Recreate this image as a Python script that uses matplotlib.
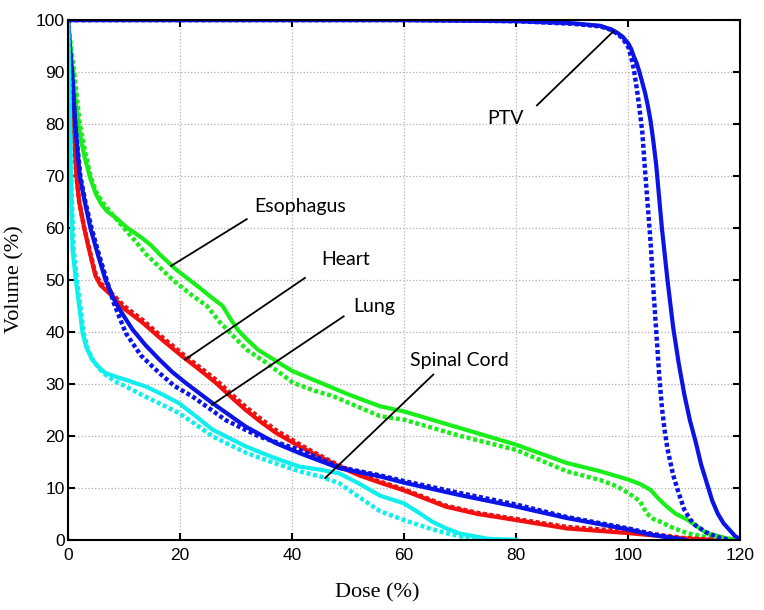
import matplotlib
matplotlib.use('Agg')
import matplotlib.pyplot as plt

plt.rcParams['font.family'] = 'Liberation Sans'

# dose-volume histogram curves (dose %, volume %); solid / dotted plan
ptv_d = [0, 60, 80, 90, 95, 97, 98, 99, 100, 100.5, 101, 101.5, 102, 102.5, 103, 103.5, 104, 104.5, 105,
         105.5, 106, 106.5, 107, 107.5, 108, 109, 110, 111, 112, 113, 114, 115, 116, 117, 118, 119, 120]
ptv_v = [100, 100, 99.8, 99.4, 98.9, 98.2, 97.6, 96.8, 95.5, 94.5, 93, 91.7, 90, 88, 86, 83.5, 80.5, 76.5, 72,
         66, 60, 55, 50, 45.5, 41, 34, 28, 23, 19, 14.5, 11, 7.5, 5, 3.2, 2, 0.8, 0]
ptv2_d = [0, 60, 80, 90, 95, 97, 98, 99, 100, 100.5, 101, 101.5, 102, 102.5, 103, 103.5, 104, 104.5, 105,
          105.5, 106, 106.5, 107, 108, 109, 110, 111, 112, 114, 116, 118]
ptv2_v = [100, 100, 99.8, 99.3, 98.8, 98.1, 97.4, 96.5, 94.8, 93, 90.5, 87, 83, 78.5, 71, 64, 57, 48, 40,
          32, 25.5, 21, 17.5, 12.5, 9, 5.8, 4, 2.8, 1.4, 0.5, 0]

eso_d = [0, 0.5, 1, 1.5, 2, 2.5, 3, 4, 5, 6, 7, 8.5, 10.6, 12, 13.3, 14.8, 16.3, 17.8, 19.3, 21.7, 23.5,
         25.2, 27.6, 29, 30.4, 32, 34, 36.7, 40, 43.8, 50, 55.7, 60, 70, 80, 89, 95, 100, 102, 104, 105.5,
         107, 108.5, 110.5, 114, 117.5, 120]
eso_v = [100, 94, 88, 83, 79, 76, 73.5, 69.5, 66.5, 64.5, 63.2, 62, 60, 59, 58, 56.7, 55, 53.5, 52, 50, 48.5,
         47, 45, 42.5, 40.3, 38.5, 36.5, 34.7, 32.5, 30.8, 28, 25.7, 24.7, 21.5, 18.3, 14.8, 13.2, 11.6, 10.8,
         9.6, 7.8, 6.3, 5, 3.9, 1.3, 0.3, 0]
eso2_d = [0, 0.5, 1.1, 1.6, 2.1, 3, 4, 5, 6.1, 8, 10, 12, 13.9, 16.3, 18.7, 22.2, 24.8, 27, 29.5, 32, 35.5,
          40.2, 44, 47.4, 55.7, 60, 70, 80, 89, 95, 98, 100, 101, 102.1, 103.3, 104.5, 105.7, 108, 110.5,
          114, 117]
eso2_v = [100, 95, 90, 85, 80, 75, 70, 67, 65, 62.5, 60, 57.5, 55, 52.5, 50, 47, 45, 42, 39.2, 36.5, 34,
          30.2, 28.7, 27.6, 23.8, 23.1, 20, 17.3, 13.2, 11.5, 10.3, 9, 8.3, 7.4, 5.1, 4, 3.5, 2.3, 1.3,
          0.5, 0]

heart_d = [0, 0.3, 0.6, 1.1, 1.5, 2.0, 2.9, 3.75, 4.9, 5.8, 6.8, 7.9, 10, 13.3, 16.8, 20.4, 23.4, 26.4, 29,
           31.7, 34.4, 37.1, 41.3, 43.6, 48.4, 52, 55.7, 60, 67.4, 73, 80, 89, 100, 105, 109.5, 115]
heart_v = [100, 93, 86, 78, 70, 65, 60, 55.9, 50.8, 49, 48, 46.9, 44.5, 41.8, 38.5, 35.3, 32.8, 30.2, 27.6,
           25, 22.7, 20.6, 18, 16.7, 14.1, 12.4, 11, 9.5, 6.4, 5, 3.8, 2.2, 1.3, 0.8, 0.3, 0]
heart2_d = [0, 0.3, 0.6, 1.1, 1.5, 2.0, 2.9, 3.75, 4.9, 5.8, 6.8, 7.9, 10, 13.3, 16.8, 20.4, 23.4, 26.4, 29,
            31.7, 34.4, 37.1, 41.3, 43.6, 48.4, 52, 55.7, 60, 67.4, 73, 80, 89, 100, 105, 109.5, 115]
heart2_v = [100, 93, 86, 78, 70, 65, 60, 56.2, 51.2, 49.4, 48.4, 47.3, 45, 42.3, 39, 35.8, 33.3, 30.8, 28.2,
            25.6, 23.3, 21.1, 18.4, 17, 14.3, 12.6, 11.2, 9.7, 6.6, 5.2, 4, 2.5, 1.6, 1, 0.4, 0]

lung_d = [0, 0.3, 0.7, 1.3, 2.1, 3, 4.0, 5.3, 6.7, 8.5, 10, 11.5, 13.8, 16.3, 18.6, 21, 25.8, 31.7, 37.1,
          41.3, 48.4, 55.7, 60, 70, 80, 89, 100, 104, 110]
lung_v = [100, 95, 90, 80, 70, 65, 60, 55, 50, 45.6, 43, 40.5, 37.5, 34.7, 32.3, 30.2, 26.3, 21.8, 18.6,
          16.7, 13.8, 12.2, 11, 8.6, 6.4, 4.2, 2.0, 1, 0]
lung2_d = [0, 0.3, 0.7, 1.3, 2.2, 3.1, 4.2, 5.5, 6.9, 8.2, 10.3, 13, 16.3, 19, 22.2, 28.2, 34.1, 41.3, 48.4,
           55.7, 60, 70, 80, 89, 100, 104, 110]
lung2_v = [100, 95, 90, 80, 70, 65, 60, 55, 50, 45.5, 39.8, 35.5, 32.1, 29.6, 27.6, 23, 19.9, 17.3, 14,
           12.4, 11.3, 9, 6.8, 4.4, 2.2, 1.2, 0]

cord_d = [0, 0.2, 0.4, 0.6, 0.8, 1.4, 2.0, 2.6, 3.3, 4.3, 5.5, 6.7, 8.5, 10.3, 13.9, 16.8, 19.8, 22.8, 25.8,
          31.7, 36.5, 41.3, 45, 48.4, 52, 55.7, 60, 62.5, 65, 67.5, 70, 75, 80]
cord_v = [100, 90, 78, 65, 56, 50, 45, 39.8, 37, 34.7, 33.2, 32.1, 31.4, 30.8, 29.5, 28, 26.3, 23.8, 21.2,
          18, 15.9, 14.1, 13.5, 12.8, 10.8, 8.5, 7, 5.3, 3.5, 2.2, 1.2, 0.2, 0]
cord2_d = [0, 0.2, 0.4, 0.7, 1.0, 1.6, 2.2, 2.8, 3.5, 4.5, 5.7, 7, 8.6, 10.3, 13.9, 16.8, 19.8, 22.8, 25.8,
           31.7, 36.5, 41.3, 45, 48.4, 52, 55.7, 60, 64.5, 67.5, 70.4, 75]
cord2_v = [100, 90, 78, 65, 56, 50, 45, 39.8, 36.8, 34.5, 32.8, 31.5, 30.4, 29.5, 27.5, 26, 24.4, 22.2, 19.9,
           16.8, 14.9, 13.2, 12.2, 10.9, 8.2, 5.5, 3.8, 2.2, 1.3, 0.6, 0]

# labels: (text, text pos, line start, line end)
labels = [
    ('PTV', (78, 81), (83.7, 83.6), (97.4, 97.9)),
    ('Esophagus', (41.4, 64.2), (31.9, 61.7), (18.4, 52.7)),
    ('Heart', (49.5, 54), (42.3, 50.4), (20.9, 34.7)),
    ('Lung', (54.6, 44.9), (49.2, 43), (25.7, 26)),
    ('Spinal Cord', (69.8, 34.5), (65.2, 31.8), (45.9, 11.9)),
]

BLUE = '#0a14e6'
GREEN = '#1aee1a'
RED = '#f01010'
CYAN = '#10eeee'

fig = plt.figure(figsize=(7.64, 6.1), dpi=100)
ax = fig.add_axes([0.089, 0.115, 0.88, 0.852])

dots = (0, (0.9, 0.6))
curves = [
    (eso_d, eso_v, eso2_d, eso2_v, GREEN),
    (heart_d, heart_v, heart2_d, heart2_v, RED),
    (lung_d, lung_v, lung2_d, lung2_v, BLUE),
    (cord_d, cord_v, cord2_d, cord2_v, CYAN),
    (ptv_d, ptv_v, ptv2_d, ptv2_v, BLUE),
]
for d1, v1, d2, v2, c in curves:
    ax.plot(d1, v1, color=c, linewidth=3, solid_joinstyle='round')
    ax.plot(d2, v2, color=c, linewidth=3.2, linestyle=dots, dash_capstyle='butt')

for txt, tpos, p0, p1 in labels:
    ax.plot([p0[0], p1[0]], [p0[1], p1[1]], color='black', linewidth=1.3)
    ax.text(tpos[0], tpos[1], txt, fontsize=14, family='Lato', ha='center', va='center')

ax.set_xlim(0, 120)
ax.set_ylim(0, 100)
ax.set_xticks(range(0, 121, 20))
ax.set_yticks(range(0, 101, 10))
ax.grid(True, color='#b0b0b0', linestyle=':', linewidth=0.9)
ax.tick_params(direction='in', length=5, width=1.5, top=True, right=True, labelsize=12.5)
ax.tick_params(axis='x', pad=6)
ax.tick_params(axis='y', pad=2.5)
for s in ax.spines.values():
    s.set_linewidth(1.5)

ax.set_xlabel('Dose (%)', family='Liberation Serif', fontsize=16)
ax.set_ylabel('Volume (%)', family='Liberation Serif', fontsize=16)
ax.xaxis.set_label_coords(0.46, -0.102)
ax.yaxis.set_label_coords(-0.079, 0.502)
ax.xaxis.label.set_va('center')
ax.yaxis.label.set_va('center')

plt.savefig('out.png', dpi=100)
